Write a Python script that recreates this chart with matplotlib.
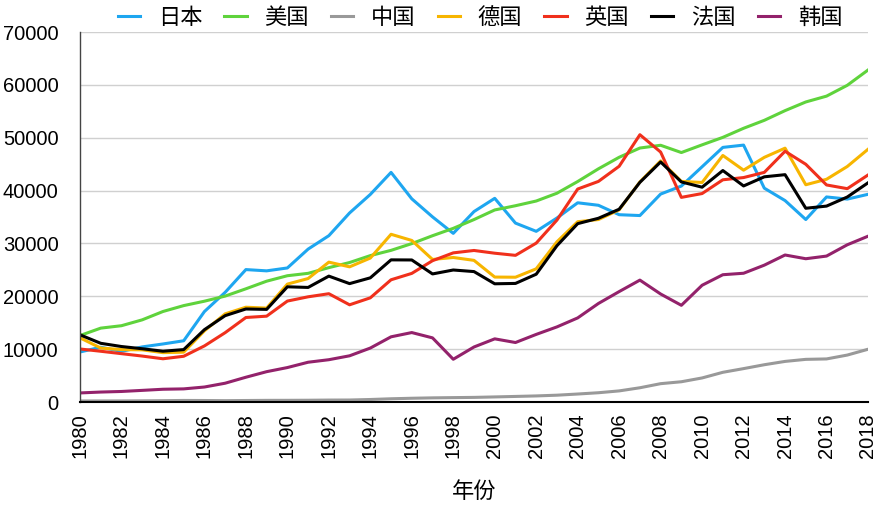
import numpy as np
import matplotlib
matplotlib.use('Agg')
from matplotlib import pyplot as plt

years = list(range(1980, 2019))

japan = [9463, 10361, 9578, 10425, 10978, 11585, 17112, 20745, 25052, 24813,
         25359, 28925, 31465, 35766, 39269, 43440, 38437, 35022, 31903, 36027,
         38532, 33846, 32289, 34808, 37689, 37218, 35434, 35275, 39339, 40855,
         44508, 48168, 48603, 40454, 38109, 34524, 38794, 38387, 39290]
usa = [12575, 13976, 14434, 15544, 17121, 18237, 19071, 20039, 21417, 22857,
       23889, 24342, 25419, 26387, 27695, 28691, 29968, 31459, 32854, 34515,
       36335, 37133, 38023, 39497, 41712, 44115, 46299, 48050, 48570, 47195,
       48651, 50066, 51784, 53291, 55124, 56763, 57867, 59915, 62805]
china = [195, 197, 203, 225, 251, 294, 282, 252, 284, 311,
         318, 333, 366, 377, 473, 610, 709, 782, 829, 873,
         959, 1053, 1149, 1289, 1509, 1753, 2099, 2694, 3468, 3832,
         4550, 5618, 6317, 7051, 7679, 8067, 8148, 8879, 9977]
germany = [12138, 10209, 9914, 9869, 9337, 9429, 13462, 16677, 17931, 17765,
           22304, 23357, 26460, 25571, 27232, 31729, 30564, 26965, 27341, 26796,
           23636, 23608, 25197, 30310, 34107, 34520, 36354, 41640, 45613, 41732,
           41532, 46645, 43858, 46286, 48024, 41103, 42136, 44553, 47811]
uk = [10032, 9599, 9146, 8691, 8179, 8652, 10611, 13118, 15987, 16239,
      19095, 19901, 20487, 18389, 19709, 23123, 24332, 26734, 28214, 28669,
      28150, 27745, 30057, 34420, 40290, 41732, 44599, 50566, 47287, 38713,
      39436, 42039, 42463, 43444, 47440, 44975, 41064, 40361, 42943]
france = [12713, 11105, 10496, 10075, 9609, 9912, 13684, 16337, 17598, 17522,
          21794, 21675, 23814, 22397, 23492, 26890, 26871, 24229, 24973, 24674,
          22364, 22433, 24177, 29568, 33741, 34760, 36470, 41556, 45413, 41631,
          40638, 43791, 40875, 42603, 43008, 36653, 37063, 38781, 41464]
korea = [1715, 1883, 1992, 2199, 2413, 2482, 2835, 3555, 4686, 5737,
         6516, 7523, 8001, 8741, 10206, 12333, 13138, 12131, 8085, 10409,
         11948, 11253, 12789, 14209, 15908, 18640, 20888, 23061, 20431, 18292,
         22087, 24080, 24359, 25890, 27811, 27105, 27608, 29743, 31363]

series = [
    ('日本', japan, '#1ea6f0'),
    ('美国', usa, '#5fd33c'),
    ('中国', china, '#999999'),
    ('德国', germany, '#f7b500'),
    ('英国', uk, '#f0301c'),
    ('法国', france, '#000000'),
    ('韩国', korea, '#93226b'),
]

plt.rcParams['font.family'] = ['Noto Sans CJK SC', 'DejaVu Sans']

fig = plt.figure(figsize=(8.79, 5.05), dpi=100)
ax = fig.add_axes([80/879, 103/505, 788/879, 370/505])

for name, vals, col in series:
    ax.plot(years, vals, color=col, lw=2.2, label=name)

ax.set_xlim(1980, 2018)
ax.set_ylim(0, 70000)
ax.set_xticks(range(1980, 2019, 2))
ax.set_yticks(range(0, 70001, 10000))
ax.set_xticklabels([str(y) for y in range(1980, 2019, 2)], rotation=90,
                   fontfamily='Liberation Sans', fontsize=14.5)
ax.set_yticklabels([str(v) for v in range(0, 70001, 10000)],
                   fontfamily='Liberation Sans', fontsize=14.5)
ax.tick_params(axis='x', length=0, pad=8)
ax.tick_params(axis='y', length=0, pad=15.5)

ax.grid(axis='y', color='#d0d0d0', lw=1)
ax.set_axisbelow(True)
for s in ['top', 'right']:
    ax.spines[s].set_visible(False)
ax.spines['left'].set_color('#444444')
ax.spines['left'].set_linewidth(1)
ax.spines['bottom'].set_color('#000000')
ax.spines['bottom'].set_linewidth(1.5)

ax.set_xlabel('年份', fontsize=16, labelpad=16)

fig.legend(loc='center', bbox_to_anchor=(480/879, 1 - 17/505), ncol=7,
           frameon=False, fontsize=16, handlelength=1.0, handletextpad=0.8,
           columnspacing=1.0)

fig.savefig('out.png', dpi=100)
